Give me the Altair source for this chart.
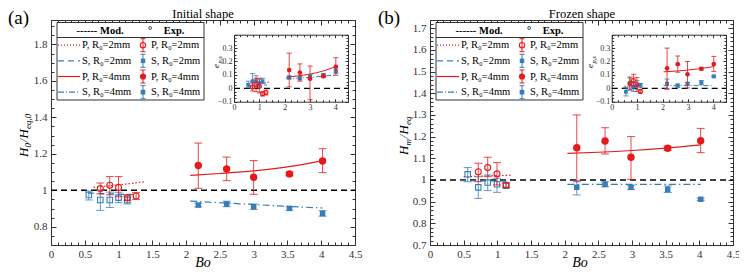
import altair as alt
import pandas as pd

W, H = 731, 263
FONT = "'Liberation Serif', 'Times New Roman', 'DejaVu Serif', serif"
RED = "#E41A1C"
BLUE = "#377EB8"
AX = "#333333"

# ================= DATA =================
# ---- (a) Initial shape : H0 / Heq,0 ----
a_bo_p2 = [0.73, 0.87, 1.00, 1.13, 1.26]
a_p2 = [1.010, 1.028, 1.016, 0.960, 0.969]
a_p2_lo = [0.980, 0.975, 0.965, 0.943, 0.950]
a_p2_hi = [1.040, 1.075, 1.075, 0.975, 0.987]

a_bo_s2 = [0.56, 0.73, 0.87, 1.00, 1.13]
a_s2 = [0.974, 0.947, 0.947, 0.960, 0.947]
a_s2_lo = [0.947, 0.890, 0.906, 0.932, 0.925]
a_s2_hi = [0.996, 1.000, 0.990, 0.989, 0.965]

a_bo_4 = [2.18, 2.60, 3.00, 3.53, 4.02]
a_p4 = [1.136, 1.117, 1.072, 1.090, 1.161]
a_p4_lo = [1.011, 1.053, 0.978, 1.080, 1.097]
a_p4_hi = [1.259, 1.182, 1.163, 1.100, 1.228]
a_s4 = [0.919, 0.925, 0.910, 0.901, 0.873]
a_s4_lo = [0.909, 0.910, 0.895, 0.891, 0.858]
a_s4_hi = [0.929, 0.940, 0.925, 0.911, 0.888]

a_mbo_p2 = [0.63, 1.00, 1.39]
a_m_p2 = [1.017, 1.030, 1.047]
a_mbo_s2 = [0.55, 1.30]
a_m_s2 = [0.985, 0.975]
a_mbo_4 = [2.06, 2.50, 3.00, 3.50, 4.02]
a_m_p4 = [1.082, 1.092, 1.106, 1.128, 1.163]
a_m_s4 = [0.941, 0.932, 0.922, 0.912, 0.903]

# inset (a) : e_p,s
ia_p2 = [0.010, 0.028, 0.016, -0.040, -0.031]
ia_p2_lo = [-0.020, -0.025, -0.035, -0.057, -0.050]
ia_p2_hi = [0.040, 0.075, 0.075, -0.025, -0.013]
ia_s2 = [0.026, 0.053, 0.053, 0.040, 0.053]
ia_s2_lo = [0.004, 0.000, 0.010, 0.011, 0.035]
ia_s2_hi = [0.053, 0.110, 0.094, 0.068, 0.075]
ia_p4 = [0.136, 0.117, 0.072, 0.090, 0.161]
ia_p4_lo = [0.011, 0.053, -0.085, 0.080, 0.097]
ia_p4_hi = [0.262, 0.182, 0.166, 0.100, 0.228]
ia_s4 = [0.081, 0.075, 0.090, 0.099, 0.127]
ia_s4_lo = [0.069, 0.063, 0.078, 0.089, 0.112]
ia_s4_hi = [0.093, 0.087, 0.102, 0.109, 0.142]
ia_m_p2 = [0.017, 0.030, 0.047]
ia_m_s2 = [0.015, 0.025]
ia_m_p4 = [0.082, 0.092, 0.106, 0.128, 0.163]
ia_m_s4 = [0.072, 0.076, 0.082, 0.090, 0.100]

# ---- (b) Frozen shape : Hm / Heq ----
b_bo_p2 = [0.717, 0.857, 0.995, 1.13]
b_p2 = [1.038, 1.057, 1.028, 0.977]
b_p2_lo = [0.992, 1.015, 0.977, 0.967]
b_p2_hi = [1.077, 1.105, 1.080, 0.987]

b_bo_s2 = [0.56, 0.717, 0.857, 0.995, 1.13]
b_s2 = [1.026, 0.966, 0.988, 0.980, 0.974]
b_s2_lo = [0.992, 0.915, 0.951, 0.943, 0.964]
b_s2_hi = [1.057, 1.015, 1.023, 1.008, 0.984]

b_bo_4 = [2.18, 2.60, 2.985, 3.53, 4.02]
b_p4 = [1.149, 1.180, 1.105, 1.146, 1.181]
b_p4_lo = [0.992, 1.120, 1.003, 1.136, 1.126]
b_p4_hi = [1.300, 1.241, 1.200, 1.156, 1.238]
b_s4 = [0.966, 0.980, 0.966, 0.957, 0.911]
b_s4_lo = [0.931, 0.968, 0.956, 0.942, 0.906]
b_s4_hi = [0.997, 0.992, 0.976, 0.972, 0.916]

b_mbo_p2 = [0.50, 1.20]
b_m_p2 = [1.015, 1.022]
b_mbo_s2 = [0.45, 1.20]
b_m_s2 = [0.997, 0.994]
b_mbo_4 = [2.04, 2.50, 3.00, 3.50, 4.02]
b_m_p4 = [1.123, 1.128, 1.136, 1.147, 1.162]
b_mbo_s4 = [2.04, 4.02]
b_m_s4 = [0.980, 0.980]

# inset (b)
ib_p2 = [0.038, 0.057, 0.028, -0.023]
ib_p2_lo = [-0.008, 0.015, -0.023, -0.033]
ib_p2_hi = [0.077, 0.105, 0.080, -0.013]
ib_s2 = [-0.026, 0.034, 0.012, 0.020, 0.026]
ib_s2_lo = [-0.057, -0.015, -0.023, -0.008, 0.016]
ib_s2_hi = [0.008, 0.085, 0.049, 0.057, 0.036]
ib_p4 = [0.149, 0.180, 0.105, 0.146, 0.181]
ib_p4_lo = [-0.008, 0.120, 0.003, 0.136, 0.126]
ib_p4_hi = [0.300, 0.241, 0.200, 0.156, 0.238]
ib_s4 = [0.034, 0.020, 0.034, 0.043, 0.089]
ib_s4_lo = [-0.001, 0.008, 0.024, 0.028, 0.084]
ib_s4_hi = [0.069, 0.032, 0.044, 0.058, 0.094]
ib_m_p2 = [0.015, 0.022]
ib_m_s2 = [0.003, 0.006]
ib_m_p4 = [0.123, 0.128, 0.136, 0.147, 0.162]
ib_m_s4 = [0.020, 0.020]

# tick values
x_major = [0, 0.5, 1, 1.5, 2, 2.5, 3, 3.5, 4, 4.5]
x_minor = [round(i * 0.1, 2) for i in range(46)]
ya_major = [0.8, 1.0, 1.2, 1.4, 1.6, 1.8]
ya_minor = [round(0.7 + i * 0.05, 3) for i in range(25)]
yb_major = [round(0.7 + i * 0.1, 2) for i in range(11)]
yb_minor = [round(0.7 + i * 0.02, 3) for i in range(52)]
ix_major = [0, 1, 2, 3, 4]
ix_minor = [round(i * 0.25, 2) for i in range(19)]
iy_labels = [-0.1, 0, 0.1, 0.2, 0.3]
iy_major = [-0.1, 0, 0.1, 0.2, 0.3, 0.4]
iy_minor = [round(-0.1 + i * 0.025, 3) for i in range(21)]

leg_labels = ["P, R\u2080=2mm", "S, R\u2080=2mm", "P, R\u2080=4mm", "S, R\u2080=4mm"]

# ================= GEOMETRY (scale ranges) =================
PA = dict(xd=[0, 4.5], yd=[0.7, 1.934], xr=[43, 347], yr=[237, 12])
PB = dict(xd=[0, 4.5], yd=[0.7, 1.738], xr=[422, 725], yr=[237, 12])
IA = dict(xd=[0, 4.5], yd=[-0.1, 0.4], xr=[226, 340], yr=[93.7, 26.7])
IB = dict(xd=[0, 4.5], yd=[-0.1, 0.4], xr=[603.7, 718], yr=[93.7, 26.7])

dummy = pd.DataFrame({"d": [0]})


def sc(dom, rng):
    return alt.Scale(domain=dom, range=rng, nice=False, zero=False)


def XY(P, xf="bo", yf="v"):
    return (alt.X(f"{xf}:Q", scale=sc(P["xd"], P["xr"]), axis=None),
            alt.Y(f"{yf}:Q", scale=sc(P["yd"], P["yr"]), axis=None))


def series(P, bo, v, lo, hi, color, shape, filled, size, cap):
    d = pd.DataFrame({"bo": bo, "v": v, "lo": lo, "hi": hi})
    x, y = XY(P)
    rule = alt.Chart(d).mark_rule(color=color, strokeWidth=1, opacity=0.8).encode(
        x=x, y=XY(P, yf="lo")[1], y2="hi:Q")
    caps = alt.Chart(d).transform_fold(["lo", "hi"], as_=["k", "e"]).mark_tick(
        orient="horizontal", size=cap, thickness=1, color=color, opacity=0.8).encode(
        x=x, y=XY(P, yf="e")[1])
    pts = alt.Chart(d).mark_point(shape=shape, filled=filled, size=size, color=color,
                                  strokeWidth=1.1, opacity=1).encode(x=x, y=y)
    return [rule, caps, pts]


def mline(P, bo, v, color, dash=None, sw=1.2):
    d = pd.DataFrame({"bo": bo, "v": v})
    x, y = XY(P)
    kw = dict(color=color, strokeWidth=sw, interpolate="monotone")
    if dash:
        kw["strokeDash"] = dash
    return alt.Chart(d).mark_line(**kw).encode(x=x, y=y)


def hline(P, yv, sw):
    d = pd.DataFrame({"bo": [P["xd"][0]], "b2": [P["xd"][1]], "v": [yv]})
    x, y = XY(P)
    return alt.Chart(d).mark_rule(color="black", strokeWidth=sw, strokeDash=[6, 4]).encode(
        x=x, x2="b2:Q", y=y)


def frame(P, xlab, ylab, xmaj, ymaj, xmin, ymin, fs, padx, pady, tmaj, tmin):
    xl, xr_ = P["xr"]
    yb, yt = P["yr"]
    d = pd.DataFrame({"bo": [P["xd"][0]], "v": [P["yd"][0]]})

    def A(orient, off, values, labels=False, ticks=False, domain=False, ts=0, pad=0):
        return alt.Axis(orient=orient, offset=off, values=values, labels=labels, ticks=ticks,
                        domain=domain, tickSize=ts, grid=False, title=None, labelFlush=False,
                        labelOverlap=False, labelFont=FONT, labelFontSize=fs, labelColor=AX,
                        labelPadding=pad, format="~g", domainColor=AX, tickColor=AX,
                        domainWidth=1, tickWidth=1)

    specs = [
        (A("bottom", yb - H, xlab, labels=True, domain=True, pad=padx),
         A("left", -xl, ylab, labels=True, domain=True, pad=pady)),
        (A("top", -yb, xmaj, ticks=True, ts=tmaj), A("right", xl - W, ymaj, ticks=True, ts=tmaj)),
        (A("top", -yb, xmin, ticks=True, ts=tmin), A("right", xl - W, ymin, ticks=True, ts=tmin)),
        (A("bottom", yt - H, xmaj, ticks=True, domain=True, ts=tmaj),
         A("left", -xr_, ymaj, ticks=True, domain=True, ts=tmaj)),
        (A("bottom", yt - H, xmin, ticks=True, ts=tmin), A("left", -xr_, ymin, ticks=True, ts=tmin)),
    ]
    out = []
    for ax_x, ax_y in specs:
        out.append(alt.Chart(d).mark_point(opacity=0).encode(
            x=alt.X("bo:Q", scale=sc(P["xd"], P["xr"]), axis=ax_x),
            y=alt.Y("v:Q", scale=sc(P["yd"], P["yr"]), axis=ax_y)))
    return out


def txt(s, x, y, size=11, align="left", baseline="middle", style="normal", weight="normal", angle=0):
    kw = dict(text=s, font=FONT, fontSize=size, align=align, baseline=baseline,
              fontStyle=style, fontWeight=weight, color="black")
    if angle:
        kw["angle"] = angle
    return alt.Chart(dummy).mark_text(**kw).encode(x=alt.value(x), y=alt.value(y))


def legend(dx):
    out = []
    out.append(alt.Chart(dummy).mark_rect(fill="white", stroke=AX, strokeWidth=1).encode(
        x=alt.value(49 + dx), x2=alt.value(196 + dx), y=alt.value(14.5), y2=alt.value(92)))
    out.append(alt.Chart(dummy).mark_rule(color=AX, strokeWidth=1).encode(
        x=alt.value(49 + dx), x2=alt.value(196 + dx), y=alt.value(29.5)))
    out.append(txt("------ Mod.", 92 + dx, 22.5, size=10.5, align="center", weight="bold"))
    out.append(txt("\u00b0", 142 + dx, 22.5, size=10.5, align="center", weight="bold"))
    out.append(txt("Exp.", 166 + dx, 22.5, size=10.5, align="center", weight="bold"))
    rows = [37.2, 52.8, 68.5, 84.2]
    cols = [RED, BLUE, RED, BLUE]
    dashes = [[1, 2], [6, 4], None, [6, 2, 1, 2]]
    marks = [("circle", False, 28), ("square", True, 20), ("circle", True, 38), ("square", True, 22)]
    for i, yy in enumerate(rows):
        kw = dict(color=cols[i], strokeWidth=1.2)
        if dashes[i]:
            kw["strokeDash"] = dashes[i]
        out.append(alt.Chart(dummy).mark_rule(**kw).encode(
            x=alt.value(50 + dx), x2=alt.value(72 + dx), y=alt.value(yy)))
        out.append(txt(leg_labels[i], 74 + dx, yy, size=10.5))
        out.append(alt.Chart(dummy).mark_rule(color=cols[i], strokeWidth=1).encode(
            x=alt.value(135 + dx), y=alt.value(yy - 6.5), y2=alt.value(yy + 6.5)))
        for cy in (yy - 6.5, yy + 6.5):
            out.append(alt.Chart(dummy).mark_rule(color=cols[i], strokeWidth=1).encode(
                x=alt.value(132.5 + dx), x2=alt.value(137.5 + dx), y=alt.value(cy)))
        shp, fil, sz = marks[i]
        out.append(alt.Chart(dummy).mark_point(shape=shp, filled=fil, size=sz, color=cols[i],
                                               strokeWidth=1.1, opacity=1).encode(
            x=alt.value(135 + dx), y=alt.value(yy)))
        out.append(txt(leg_labels[i], 143 + dx, yy, size=10.5))
    return out


layers = []

# ---------- panel (a) ----------
layers += frame(PA, x_major, ya_major, x_major, ya_major, x_minor, ya_minor, 11, 3, 4, 5, 3)
layers.append(hline(PA, 1.0, 1.6))
layers += [mline(PA, a_mbo_p2, a_m_p2, RED, [1.5, 2]),
           mline(PA, a_mbo_s2, a_m_s2, BLUE, [6, 4]),
           mline(PA, a_mbo_4, a_m_p4, RED),
           mline(PA, a_mbo_4, a_m_s4, BLUE, [7, 3, 1.5, 3])]
layers += series(PA, a_bo_s2, a_s2, a_s2_lo, a_s2_hi, BLUE, "square", False, 30, 8)
layers += series(PA, a_bo_p2, a_p2, a_p2_lo, a_p2_hi, RED, "circle", False, 36, 8)
layers += series(PA, a_bo_4, a_s4, a_s4_lo, a_s4_hi, BLUE, "square", True, 30, 8)
layers += series(PA, a_bo_4, a_p4, a_p4_lo, a_p4_hi, RED, "circle", True, 55, 8)

# inset (a)
layers += frame(IA, ix_major, iy_labels, ix_major, iy_major, ix_minor, iy_minor, 8, 2, 2, 3, 2)
layers.append(hline(IA, 0.0, 1.3))
layers += [mline(IA, a_mbo_p2, ia_m_p2, RED, [1.5, 1.5], 1),
           mline(IA, a_mbo_s2, ia_m_s2, BLUE, [5, 3], 1),
           mline(IA, a_mbo_4, ia_m_p4, RED, None, 1),
           mline(IA, a_mbo_4, ia_m_s4, BLUE, [5, 2, 1, 2], 1)]
layers += series(IA, a_bo_s2, ia_s2, ia_s2_lo, ia_s2_hi, BLUE, "square", True, 14, 5)
layers += series(IA, a_bo_p2, ia_p2, ia_p2_lo, ia_p2_hi, RED, "circle", False, 16, 5)
layers += series(IA, a_bo_4, ia_s4, ia_s4_lo, ia_s4_hi, BLUE, "square", True, 16, 5)
layers += series(IA, a_bo_4, ia_p4, ia_p4_lo, ia_p4_hi, RED, "circle", True, 22, 5)

# ---------- panel (b) ----------
layers += frame(PB, x_major, yb_major, x_major, yb_major, x_minor, yb_minor, 11, 3, 4, 5, 3)
layers.append(hline(PB, 1.0, 1.6))
layers += [mline(PB, b_mbo_p2, b_m_p2, RED, [1.5, 2]),
           mline(PB, b_mbo_s2, b_m_s2, BLUE, [6, 4]),
           mline(PB, b_mbo_4, b_m_p4, RED),
           mline(PB, b_mbo_s4, b_m_s4, BLUE, [7, 3, 1.5, 3])]
layers += series(PB, b_bo_s2, b_s2, b_s2_lo, b_s2_hi, BLUE, "square", False, 30, 8)
layers += series(PB, b_bo_p2, b_p2, b_p2_lo, b_p2_hi, RED, "circle", False, 36, 8)
layers += series(PB, b_bo_4, b_s4, b_s4_lo, b_s4_hi, BLUE, "square", True, 30, 8)
layers += series(PB, b_bo_4, b_p4, b_p4_lo, b_p4_hi, RED, "circle", True, 55, 8)

# inset (b)
layers += frame(IB, ix_major, iy_labels, ix_major, iy_major, ix_minor, iy_minor, 8, 2, 2, 3, 2)
layers.append(hline(IB, 0.0, 1.3))
layers += [mline(IB, b_mbo_p2, ib_m_p2, RED, [1.5, 1.5], 1),
           mline(IB, b_mbo_s2, ib_m_s2, BLUE, [5, 3], 1),
           mline(IB, b_mbo_4, ib_m_p4, RED, None, 1),
           mline(IB, b_mbo_s4, ib_m_s4, BLUE, [5, 2, 1, 2], 1)]
layers += series(IB, b_bo_s2, ib_s2, ib_s2_lo, ib_s2_hi, BLUE, "square", True, 14, 5)
layers += series(IB, b_bo_p2, ib_p2, ib_p2_lo, ib_p2_hi, RED, "circle", False, 16, 5)
layers += series(IB, b_bo_4, ib_s4, ib_s4_lo, ib_s4_hi, BLUE, "square", True, 16, 5)
layers += series(IB, b_bo_4, ib_p4, ib_p4_lo, ib_p4_hi, RED, "circle", True, 22, 5)

# ---------- legends ----------
layers += legend(0)
layers += legend(379)

# ---------- texts ----------
layers.append(txt("Initial shape", 195, 9.5, size=12.5, align="center", baseline="alphabetic"))
layers.append(txt("Frozen shape", 574, 9.5, size=12.5, align="center", baseline="alphabetic"))
layers.append(txt("(a)", 0, 15.5, size=19, baseline="alphabetic"))
layers.append(txt("(b)", 370, 15.5, size=19, baseline="alphabetic"))
layers.append(txt("Bo", 195, 258.5, size=14, align="center", style="italic", baseline="alphabetic"))
layers.append(txt("Bo", 572, 258.5, size=14, align="center", style="italic", baseline="alphabetic"))
# inset y titles
layers.append(txt("e", 211, 60, size=9, align="left", style="italic", angle=270, baseline="alphabetic"))
layers.append(txt("p,s", 213.5, 55.5, size=6.5, align="left", style="italic", angle=270, baseline="alphabetic"))
layers.append(txt("e", 585, 60, size=9, align="left", style="italic", angle=270, baseline="alphabetic"))
layers.append(txt("p,s", 587.5, 55.5, size=6.5, align="left", style="italic", angle=270, baseline="alphabetic"))
# main y titles (rotated, pieces for subscripts)
for s, yy, sz, dxs in [("H", 149, 13, 0), ("0", 139.4, 9, 3), ("/", 134.6, 13, 0),
                       ("H", 130.5, 13, 0), ("eq,0", 121, 9, 3)]:
    layers.append(txt(s, 20 + dxs, yy, size=sz, style="italic", angle=270, baseline="alphabetic"))
for s, yy, sz, dxs in [("H", 147, 13, 0), ("m", 137.4, 9, 3), ("/", 130.6, 13, 0),
                       ("H", 126.5, 13, 0), ("eq", 117, 9, 3)]:
    layers.append(txt(s, 400 + dxs, yy, size=sz, style="italic", angle=270, baseline="alphabetic"))

chart = alt.layer(*layers).resolve_scale(x="independent", y="independent").properties(
    width=W, height=H, padding=0, autosize=alt.AutoSizeParams(type="none"),
    background="white").configure_view(stroke=None)

chart.save("out.html", embed_options={"renderer": "svg", "actions": False})
